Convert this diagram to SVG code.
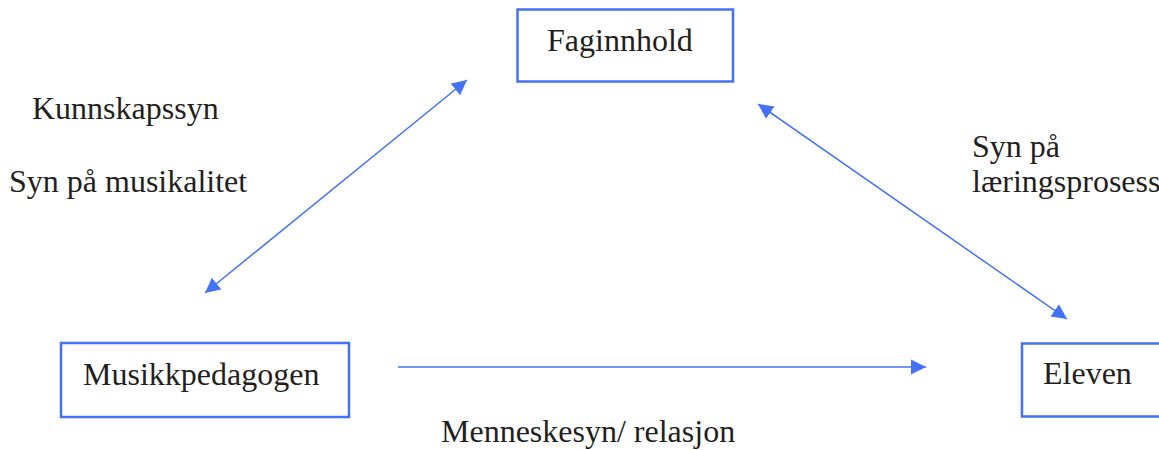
<svg xmlns="http://www.w3.org/2000/svg" width="1159" height="450" viewBox="0 0 1159 450">
<style>
.box{fill:#fff;stroke:#4472f4;stroke-width:2.5}
.t{font-family:"Liberation Serif","Times New Roman",serif;font-size:32px;fill:#231f20}
.c{stroke:#4472f4;stroke-width:1.5;fill:none}
</style>
<defs>
<marker id="ah" markerUnits="userSpaceOnUse" markerWidth="16" markerHeight="16" viewBox="0 0 16 16" refX="15" refY="8" orient="auto-start-reverse">
<path d="M0,0.5 L15,8 L0,15.5 Z" fill="#4472f4"/>
</marker>
</defs>
<rect width="1159" height="450" fill="#fff"/>
<g id="connectors">
<line class="c" x1="398" y1="367" x2="926" y2="367" marker-end="url(#ah)"/>
<line class="c" x1="205" y1="293" x2="467" y2="80" marker-start="url(#ah)" marker-end="url(#ah)"/>
<line class="c" x1="758" y1="104" x2="1067" y2="319" marker-start="url(#ah)" marker-end="url(#ah)"/>
</g>
<g id="faginnhold">
<rect class="box" x="517.5" y="9.5" width="215.5" height="72"/>
<text class="t" x="547" y="51">Faginnhold</text>
</g>
<g id="musikkpedagogen">
<rect class="box" x="61" y="343" width="288" height="74"/>
<text class="t" x="83" y="385">Musikkpedagogen</text>
</g>
<g id="eleven">
<rect class="box" x="1022" y="343.5" width="160" height="73"/>
<text class="t" x="1043" y="384">Eleven</text>
</g>
<g id="labels">
<text class="t" x="32" y="119">Kunnskapssyn</text>
<text class="t" x="9" y="192">Syn på musikalitet</text>
<text class="t" x="972" y="157">Syn på</text>
<text class="t" x="972" y="192">læringsprosess</text>
<text class="t" x="441" y="442">Menneskesyn/ relasjon</text>
</g>
</svg>
